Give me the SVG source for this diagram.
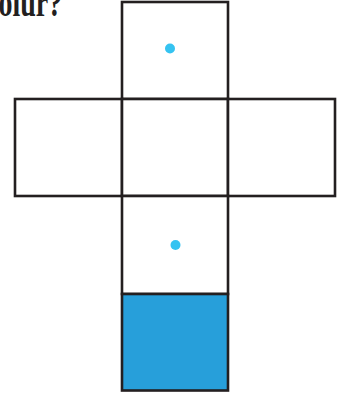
<svg xmlns="http://www.w3.org/2000/svg" width="346" height="396" viewBox="0 0 346 396">
<style>
.sq{fill:#ffffff;stroke:#231f20;stroke-width:2.6}
.dot{fill:#35c3f1}
.t{font-family:"Liberation Serif","Times New Roman",serif;font-weight:bold;font-size:28px;fill:#231f20}
</style>
<rect width="346" height="396" fill="#ffffff"/>
<text class="t" x="-1.5" y="0" transform="translate(0,16) scale(1,1.4)">olur?</text>
<g id="top"><rect class="sq" x="122" y="2" width="106" height="97"/><circle class="dot" cx="170" cy="48.5" r="5"/></g>
<g id="left"><rect class="sq" x="15" y="99" width="107" height="97"/></g>
<g id="center"><rect class="sq" x="122" y="99" width="106" height="97"/></g>
<g id="right"><rect class="sq" x="228" y="99" width="107" height="97"/></g>
<g id="lower"><rect class="sq" x="122" y="196" width="106" height="98"/><circle class="dot" cx="175.5" cy="245" r="5"/></g>
<g id="bottom"><rect class="sq" x="122" y="294" width="106" height="96.5" style="fill:#279fda"/></g>
<g id="connectors"></g>
</svg>
